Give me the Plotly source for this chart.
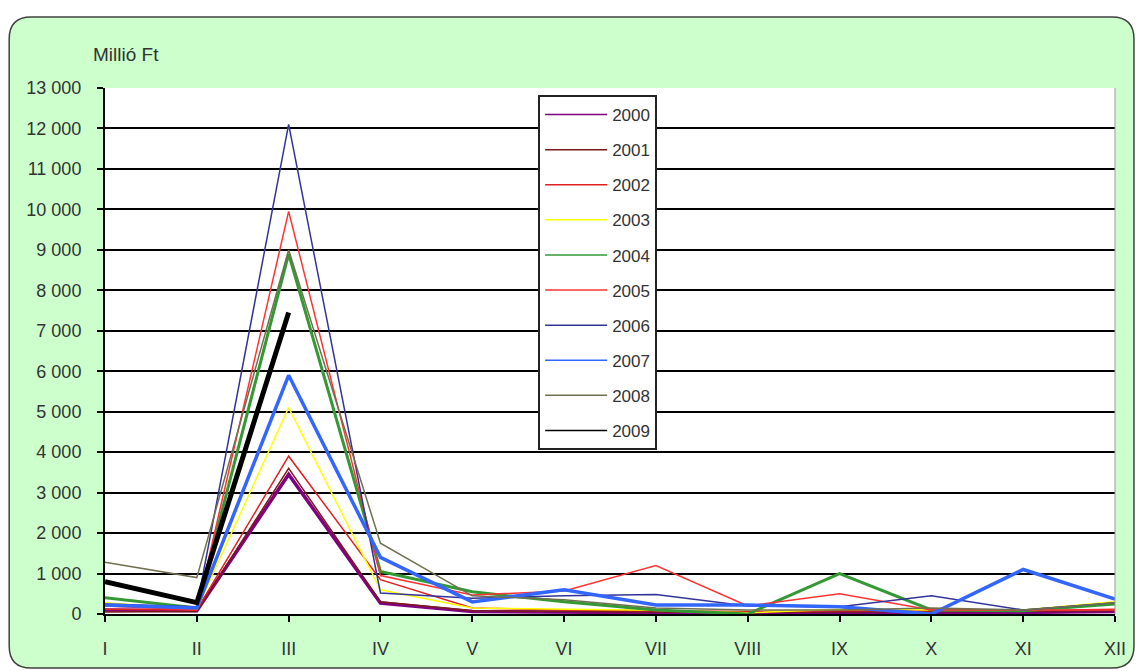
import plotly.graph_objects as go

months = ["I", "II", "III", "IV", "V", "VI", "VII", "VIII", "IX", "X", "XI", "XII"]
years = ["2000", "2001", "2002", "2003", "2004", "2005", "2006", "2007", "2008", "2009"]

v2000 = [100, 80, 3450, 270, 60, 40, 30, 20, 30, 30, 40, 60]
v2001 = [50, 60, 3600, 300, 80, 60, 50, 40, 50, 50, 60, 80]
v2002 = [120, 100, 3900, 850, 150, 100, 80, 60, 80, 80, 80, 120]
v2003 = [280, 120, 5100, 600, 150, 120, 90, 30, 120, 100, 100, 300]
v2004 = [400, 150, 8900, 1050, 550, 300, 100, 0, 1000, 100, 80, 250]
v2005 = [200, 100, 9950, 950, 470, 570, 1200, 200, 500, 100, 100, 100]
v2006 = [250, 180, 12100, 520, 390, 450, 480, 200, 180, 450, 100, 280]
v2007 = [220, 150, 5900, 1400, 300, 600, 220, 220, 180, 0, 1100, 370]
v2008 = [1280, 900, 9000, 1750, 450, 350, 150, 100, 100, 150, 100, 280]
v2009 = [800, 280, 7450]

series = [v2000, v2001, v2002, v2003, v2004, v2005, v2006, v2007, v2008, v2009]
colors = ["#800080", "#7a1a1a", "#e02020", "#ffff00", "#339933",
          "#ff3333", "#333399", "#3366ff", "#707050", "#000000"]
widths = [3.5, 1.5, 1.5, 1.5, 3, 1.5, 1.5, 3.5, 1.5, 5]

ytickvals = list(range(0, 13001, 1000))
yticktext = ["0", "1 000", "2 000", "3 000", "4 000", "5 000", "6 000", "7 000",
             "8 000", "9 000", "10 000", "11 000", "12 000", "13 000"]

W, H = 1138, 671
L, R, T, B = 105, 1117, 88, 614


def px(x):
    return (x - L) / (R - L)


def py(y):
    return (B - y) / (B - T)


fig = go.Figure()
for name, vals, c, w in zip(years, series, colors, widths):
    fig.add_trace(go.Scatter(
        x=months[:len(vals)], y=vals, name=name, mode="lines",
        line=dict(color=c, width=w), showlegend=False,
    ))
# legend entries (thin samples, as in the original legend)
for name, c in zip(years, colors):
    fig.add_trace(go.Scatter(
        x=[None], y=[None], name=name, mode="lines",
        line=dict(color=c, width=1.5), legendgroup=name, showlegend=True,
    ))

# rounded green frame
x0, x1, y0, y1, r = 9, 1136, 17, 668, 22
path = (f"M{px(x0 + r)},{py(y0)} L{px(x1 - r)},{py(y0)} Q{px(x1)},{py(y0)} {px(x1)},{py(y0 + r)} "
        f"L{px(x1)},{py(y1 - r)} Q{px(x1)},{py(y1)} {px(x1 - r)},{py(y1)} "
        f"L{px(x0 + r)},{py(y1)} Q{px(x0)},{py(y1)} {px(x0)},{py(y1 - r)} "
        f"L{px(x0)},{py(y0 + r)} Q{px(x0)},{py(y0)} {px(x0 + r)},{py(y0)} Z")
shapes = [
    dict(type="path", xref="paper", yref="paper", path=path,
         fillcolor="#ccffcc", line=dict(color="#404040", width=1.5), layer="below"),
    dict(type="rect", xref="paper", yref="paper", x0=0, x1=1, y0=0, y1=1,
         fillcolor="#ffffff", line=dict(width=0), layer="below"),
    dict(type="line", xref="paper", yref="paper", x0=1, x1=1, y0=0, y1=1,
         line=dict(color="#999999", width=1)),
]

fig.update_layout(
    width=W, height=H,
    margin=dict(l=L, r=W - R, t=T, b=H - B, pad=0),
    paper_bgcolor="#ffffff", plot_bgcolor="#ffffff",
    font=dict(family="Liberation Sans, Arial, sans-serif", size=18, color="#333333"),
    shapes=shapes,
    showlegend=True,
    legend=dict(
        x=px(539), y=py(95), xanchor="left", yanchor="top",
        bgcolor="#ffffff", bordercolor="#222222", borderwidth=2,
        font=dict(size=17, color="#333333"),
        tracegroupgap=10, itemwidth=62, traceorder="grouped",
    ),
    annotations=[dict(text="Millió Ft", xref="paper", yref="paper",
                      x=px(91), y=py(54), xanchor="left", yanchor="middle",
                      showarrow=False, font=dict(size=19, color="#333333"))],
    xaxis=dict(
        type="category", range=[0, 11], showgrid=False,
        showline=True, linecolor="#000000", linewidth=2,
        ticks="outside", ticklen=6, tickcolor="#000000", tickwidth=1.5,
        ticklabelstandoff=11, zeroline=False,
    ),
    yaxis=dict(
        range=[0, 13000], tickvals=ytickvals, ticktext=yticktext,
        showgrid=True, gridcolor="#000000", gridwidth=1.5,
        showline=True, linecolor="#000000", linewidth=2,
        ticks="outside", ticklen=6, tickcolor="#000000", tickwidth=1.5,
        ticklabelstandoff=12, zeroline=False,
    ),
)

fig.write_html("out.html")
